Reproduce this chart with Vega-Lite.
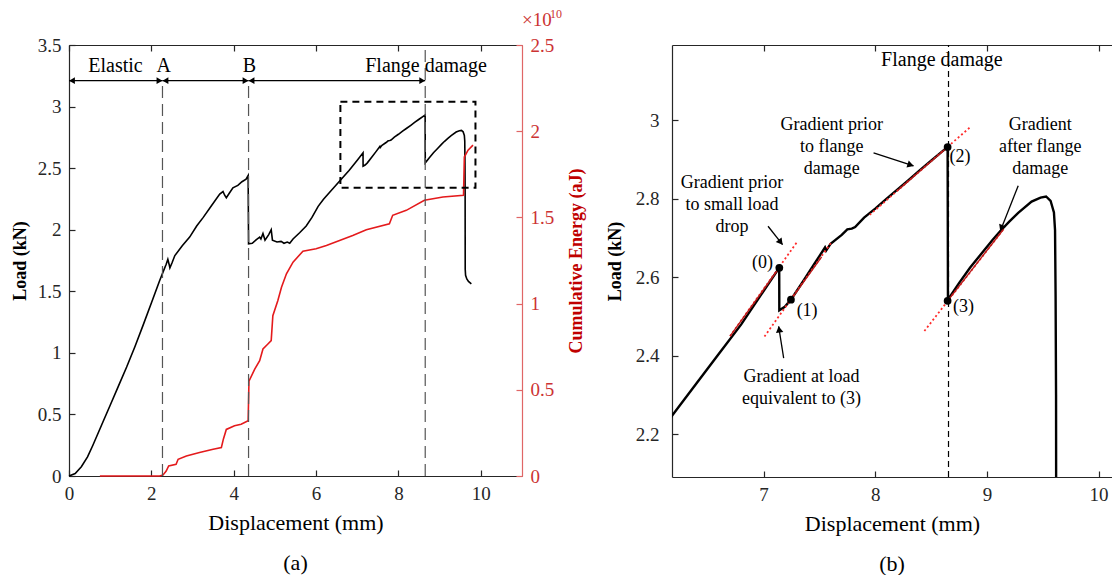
{
  "$schema": "https://vega.github.io/schema/vega-lite/v6.json",
  "background": "white",
  "padding": {"left": 11, "top": 8, "right": 0, "bottom": 0},
  "bounds": "flush",
  "spacing": 150,
  "config": {
    "font": "Liberation Serif",
    "view": {"stroke": null},
    "title": {"font": "Liberation Serif", "fontSize": 22, "fontWeight": "normal", "color": "#000000"},
    "axis": {
      "grid": false, "labelFont": "Liberation Serif", "labelFontSize": 19, "labelColor": "#262626",
      "titleFont": "Liberation Serif", "titleColor": "#000000", "domainColor": "#262626", "tickColor": "#262626",
      "tickSize": -6, "labelPadding": 14, "domainWidth": 1.2, "tickWidth": 1.2, "labelFlush": false, "labelOverlap": false
    }
  },
  "datasets": {
    "load": [
      {"d":0,"load":0},{"d":0.15,"load":0.02},{"d":0.3,"load":0.075},{"d":0.45,"load":0.155},{"d":0.58,"load":0.25},{"d":0.8,"load":0.42},{"d":1.0,"load":0.575},{"d":1.2,"load":0.73},{"d":1.4,"load":0.885},{"d":1.6,"load":1.05},{"d":1.8,"load":1.225},{"d":2.0,"load":1.405},{"d":2.2,"load":1.585},{"d":2.3,"load":1.67},{"d":2.36,"load":1.72},{"d":2.4,"load":1.76},{"d":2.43,"load":1.72},{"d":2.45,"load":1.69},{"d":2.5,"load":1.73},{"d":2.57,"load":1.79},{"d":2.75,"load":1.87},{"d":2.93,"load":1.94},{"d":3.1,"load":2.03},{"d":3.26,"load":2.1},{"d":3.45,"load":2.19},{"d":3.66,"load":2.29},{"d":3.74,"load":2.31},{"d":3.78,"load":2.28},{"d":3.82,"load":2.26},{"d":3.9,"load":2.3},{"d":3.98,"load":2.34},{"d":4.1,"load":2.36},{"d":4.2,"load":2.39},{"d":4.3,"load":2.41},{"d":4.35,"load":2.44},{"d":4.36,"load":1.885},{"d":4.45,"load":1.89},{"d":4.55,"load":1.92},{"d":4.63,"load":1.94},{"d":4.66,"load":1.925},{"d":4.71,"load":1.97},{"d":4.76,"load":1.915},{"d":4.85,"load":1.96},{"d":4.91,"load":2.0},{"d":4.94,"load":1.915},{"d":5.05,"load":1.9},{"d":5.15,"load":1.905},{"d":5.22,"load":1.89},{"d":5.3,"load":1.9},{"d":5.36,"load":1.89},{"d":5.44,"load":1.925},{"d":5.6,"load":1.975},{"d":5.76,"load":2.03},{"d":5.9,"load":2.1},{"d":6.05,"load":2.19},{"d":6.18,"load":2.247},{"d":6.4,"load":2.33},{"d":6.6,"load":2.405},{"d":6.8,"load":2.48},{"d":7.0,"load":2.565},{"d":7.14,"load":2.624},{"d":7.141,"load":2.516},{"d":7.19,"load":2.525},{"d":7.245,"load":2.543},{"d":7.35,"load":2.588},{"d":7.45,"load":2.632},{"d":7.53,"load":2.667},{"d":7.55,"load":2.676},{"d":7.56,"load":2.668},{"d":7.6,"load":2.685},{"d":7.7,"load":2.708},{"d":7.75,"load":2.722},{"d":7.79,"load":2.724},{"d":7.82,"load":2.728},{"d":7.9,"load":2.752},{"d":8.0,"load":2.775},{"d":8.1,"load":2.8},{"d":8.2,"load":2.824},{"d":8.3,"load":2.848},{"d":8.4,"load":2.873},{"d":8.5,"load":2.897},{"d":8.6,"load":2.921},{"d":8.648,"load":2.932},{"d":8.651,"load":2.543},{"d":8.75,"load":2.585},{"d":8.85,"load":2.625},{"d":8.95,"load":2.66},{"d":9.05,"load":2.695},{"d":9.12,"load":2.718},{"d":9.2,"load":2.742},{"d":9.28,"load":2.764},{"d":9.4,"load":2.793},{"d":9.48,"load":2.803},{"d":9.53,"load":2.806},{"d":9.57,"load":2.795},{"d":9.6,"load":2.765},{"d":9.61,"load":2.72},{"d":9.615,"load":2.55},{"d":9.619,"load":2.3},{"d":9.621,"load":1.68},{"d":9.63,"load":1.63},{"d":9.66,"load":1.6},{"d":9.7,"load":1.58},{"d":9.77,"load":1.56}
    ],
    "energy": [
      {"d":0.75,"energy":0},{"d":2.2,"energy":0},{"d":2.28,"energy":5e7},{"d":2.36,"energy":2.9e8},{"d":2.42,"energy":5.8e8},{"d":2.6,"energy":6.8e8},{"d":2.65,"energy":9.7e8},{"d":2.85,"energy":1.16e9},{"d":3.17,"energy":1.36e9},{"d":3.5,"energy":1.55e9},{"d":3.7,"energy":1.65e9},{"d":3.75,"energy":2.15e9},{"d":3.82,"energy":2.7e9},{"d":4.02,"energy":2.91e9},{"d":4.18,"energy":3.0e9},{"d":4.35,"energy":3.2e9},{"d":4.37,"energy":5.5e9},{"d":4.51,"energy":6.2e9},{"d":4.63,"energy":6.69e9},{"d":4.71,"energy":7.37e9},{"d":4.83,"energy":7.66e9},{"d":4.91,"energy":7.85e9},{"d":4.95,"energy":9.3e9},{"d":5.07,"energy":1.017e10},{"d":5.16,"energy":1.095e10},{"d":5.28,"energy":1.173e10},{"d":5.44,"energy":1.24e10},{"d":5.68,"energy":1.304e10},{"d":6.0,"energy":1.318e10},{"d":6.25,"energy":1.337e10},{"d":6.57,"energy":1.366e10},{"d":6.89,"energy":1.395e10},{"d":7.22,"energy":1.428e10},{"d":7.78,"energy":1.463e10},{"d":7.86,"energy":1.512e10},{"d":8.19,"energy":1.541e10},{"d":8.63,"energy":1.599e10},{"d":9.08,"energy":1.618e10},{"d":9.58,"energy":1.628e10},{"d":9.6,"energy":1.85e10},{"d":9.69,"energy":1.89e10},{"d":9.81,"energy":1.919e10}
    ],
    "stages": [
      {"d": 2.27, "bottom": 0, "top": 3.21},
      {"d": 4.36, "bottom": 0, "top": 3.21},
      {"d": 8.65, "bottom": 0, "top": 3.5}
    ],
    "phases": [
      {"phase": "Elastic", "start": 0, "end": 2.27, "level": 3.21},
      {"phase": "A", "start": 2.27, "end": 4.36, "level": 3.21},
      {"phase": "B", "start": 4.36, "end": 8.65, "level": 3.21}
    ],
    "phase_labels": [
      {"label": "Elastic", "d": 1.13, "level": 3.33},
      {"label": "A", "d": 2.3, "level": 3.33},
      {"label": "B", "d": 4.38, "level": 3.33},
      {"label": "Flange damage", "d": 8.67, "level": 3.33}
    ],
    "box": [{"d1": 6.59, "d2": 9.87, "l1": 2.341, "l2": 3.04}],
    "exponent": [{"d": 11, "load": 3.654}],
    "flange_b": [{"d": 8.656, "bottom": 2.091, "top": 3.192, "label": "Flange damage", "ld": 8.597, "ll": 3.155}],
    "grad_b": [
      {"g": "g0", "kind": "full", "d": 6.7, "load": 2.45}, {"g": "g0", "kind": "full", "d": 7.3, "load": 2.69},
      {"g": "g0", "kind": "overlap", "d": 6.7, "load": 2.45}, {"g": "g0", "kind": "overlap", "d": 7.14, "load": 2.624},
      {"g": "g1", "kind": "full", "d": 7.008, "load": 2.449}, {"g": "g1", "kind": "full", "d": 7.61, "load": 2.69},
      {"g": "g1", "kind": "overlap", "d": 7.245, "load": 2.543}, {"g": "g1", "kind": "overlap", "d": 7.52, "load": 2.652},
      {"g": "g2", "kind": "full", "d": 7.95, "load": 2.759}, {"g": "g2", "kind": "full", "d": 8.86, "load": 2.985},
      {"g": "g2", "kind": "overlap", "d": 8.2, "load": 2.821}, {"g": "g2", "kind": "overlap", "d": 8.648, "load": 2.932},
      {"g": "g3", "kind": "full", "d": 8.44, "load": 2.463}, {"g": "g3", "kind": "full", "d": 9.15, "load": 2.723},
      {"g": "g3", "kind": "overlap", "d": 8.648, "load": 2.54}, {"g": "g3", "kind": "overlap", "d": 9.15, "load": 2.723}
    ],
    "arrows_b": [
      {"arrow": "a0", "end": "tail", "d": 7.04, "load": 2.73}, {"arrow": "a0", "end": "head", "d": 7.17, "load": 2.683},
      {"arrow": "a1", "end": "tail", "d": 7.18, "load": 2.394}, {"arrow": "a1", "end": "head", "d": 7.135, "load": 2.475},
      {"arrow": "a2", "end": "tail", "d": 7.985, "load": 2.917}, {"arrow": "a2", "end": "head", "d": 8.343, "load": 2.884},
      {"arrow": "a3", "end": "tail", "d": 9.28, "load": 2.833}, {"arrow": "a3", "end": "head", "d": 9.12, "load": 2.718}
    ],
    "pts_b": [
      {"pt": "(0)", "d": 7.141, "load": 2.624, "ld": 6.99, "ll": 2.637},
      {"pt": "(1)", "d": 7.245, "load": 2.543, "ld": 7.39, "ll": 2.514},
      {"pt": "(2)", "d": 8.648, "load": 2.932, "ld": 8.76, "ll": 2.907},
      {"pt": "(3)", "d": 8.648, "load": 2.54, "ld": 8.79, "ll": 2.523}
    ],
    "notes_b": [
      {"note": "Gradient prior\nto flange\ndamage", "d": 7.61, "load": 3.011},
      {"note": "Gradient\nafter flange\ndamage", "d": 9.477, "load": 3.011},
      {"note": "Gradient prior\nto small load\ndrop", "d": 6.717, "load": 2.862},
      {"note": "Gradient at load\nequivalent to (3)", "d": 7.34, "load": 2.368}
    ]
  },
  "hconcat": [
    {
      "width": 453,
      "height": 431,
      "title": {"text": "(a)", "orient": "bottom", "offset": 20},
      "resolve": {"scale": {"y": "independent"}},
      "layer": [
        {
          "data": {"name": "load"},
          "mark": {"type": "line", "color": "#000000", "strokeWidth": 1.6},
          "encoding": {
            "x": {"field": "d", "type": "quantitative", "scale": {"domain": [0, 11], "nice": false},
              "axis": {"orient": "bottom", "values": [0, 2, 4, 6, 8, 10], "title": "Displacement (mm)", "titleFontSize": 22, "titleFontWeight": "normal", "titlePadding": 9}},
            "y": {"field": "load", "type": "quantitative", "scale": {"domain": [0, 3.5], "nice": false},
              "axis": {"orient": "left", "values": [0, 0.5, 1, 1.5, 2, 2.5, 3, 3.5], "labelExpr": "'' + datum.value", "title": "Load (kN)", "titleFontSize": 18, "titleFontWeight": "bold", "titlePadding": 8}}
          }
        },
        {
          "data": {"name": "energy"},
          "mark": {"type": "line", "color": "#e41a1c", "strokeWidth": 1.6},
          "encoding": {
            "x": {"field": "d", "type": "quantitative", "scale": {"domain": [0, 11], "nice": false},
              "axis": {"orient": "top", "values": [0, 2, 4, 6, 8, 10], "labels": false, "title": null}},
            "y": {"field": "energy", "type": "quantitative", "scale": {"domain": [0, 25000000000], "nice": false},
              "axis": {"orient": "right", "values": [0, 5000000000, 10000000000, 15000000000, 20000000000, 25000000000],
                "labelExpr": "'' + (datum.value / 1e10)", "title": "Cumulative Energy (aJ)", "titleAngle": 270,
                "titleFontSize": 18, "titleFontWeight": "bold", "titleColor": "#c00000", "labelColor": "#cc3333",
                "domainColor": "#e06666", "tickColor": "#e06666", "titlePadding": 32}}
          }
        },
        {
          "data": {"name": "stages"},
          "mark": {"type": "rule", "color": "#555555", "strokeDash": [12, 6], "strokeWidth": 1.2},
          "encoding": {
            "x": {"field": "d", "type": "quantitative", "scale": {"domain": [0, 11], "nice": false}, "axis": null},
            "y": {"field": "bottom", "type": "quantitative", "scale": {"domain": [0, 3.5], "nice": false}, "axis": null},
            "y2": {"field": "top"}
          }
        },
        {
          "data": {"name": "phases"},
          "mark": {"type": "rule", "color": "#000000", "strokeWidth": 1.2},
          "encoding": {
            "x": {"field": "start", "type": "quantitative", "scale": {"domain": [0, 11], "nice": false}, "axis": null},
            "x2": {"field": "end"},
            "y": {"field": "level", "type": "quantitative", "scale": {"domain": [0, 3.5], "nice": false}, "axis": null}
          }
        },
        {
          "data": {"name": "phases"},
          "mark": {"type": "point", "shape": "triangle-left", "filled": true, "color": "#000000", "size": 45, "opacity": 1, "xOffset": 3},
          "encoding": {
            "x": {"field": "start", "type": "quantitative", "scale": {"domain": [0, 11], "nice": false}, "axis": null},
            "y": {"field": "level", "type": "quantitative", "scale": {"domain": [0, 3.5], "nice": false}, "axis": null}
          }
        },
        {
          "data": {"name": "phases"},
          "mark": {"type": "point", "shape": "triangle-right", "filled": true, "color": "#000000", "size": 45, "opacity": 1, "xOffset": -3},
          "encoding": {
            "x": {"field": "end", "type": "quantitative", "scale": {"domain": [0, 11], "nice": false}, "axis": null},
            "y": {"field": "level", "type": "quantitative", "scale": {"domain": [0, 3.5], "nice": false}, "axis": null}
          }
        },
        {
          "data": {"name": "phase_labels"},
          "mark": {"type": "text", "fontSize": 20, "align": "center", "baseline": "middle", "color": "#000000", "font": "Liberation Serif"},
          "encoding": {
            "x": {"field": "d", "type": "quantitative", "scale": {"domain": [0, 11], "nice": false}, "axis": null},
            "y": {"field": "level", "type": "quantitative", "scale": {"domain": [0, 3.5], "nice": false}, "axis": null},
            "text": {"field": "label", "type": "nominal"}
          }
        },
        {
          "data": {"name": "box"},
          "mark": {"type": "rect", "filled": false, "stroke": "#000000", "strokeWidth": 2, "strokeDash": [7, 5]},
          "encoding": {
            "x": {"field": "d1", "type": "quantitative", "scale": {"domain": [0, 11], "nice": false}, "axis": null},
            "x2": {"field": "d2"},
            "y": {"field": "l1", "type": "quantitative", "scale": {"domain": [0, 3.5], "nice": false}, "axis": null},
            "y2": {"field": "l2"}
          }
        },
        {
          "data": {"name": "exponent"},
          "mark": {"type": "text", "text": "×10", "fontSize": 19, "align": "left", "baseline": "alphabetic", "color": "#cc3333", "font": "Liberation Serif"},
          "encoding": {
            "x": {"field": "d", "type": "quantitative", "scale": {"domain": [0, 11], "nice": false}, "axis": null},
            "y": {"field": "load", "type": "quantitative", "scale": {"domain": [0, 3.5], "nice": false}, "axis": null}
          }
        },
        {
          "data": {"name": "exponent"},
          "mark": {"type": "text", "text": "10", "fontSize": 12, "align": "left", "baseline": "alphabetic", "color": "#cc3333", "font": "Liberation Serif", "dx": 28, "dy": -8},
          "encoding": {
            "x": {"field": "d", "type": "quantitative", "scale": {"domain": [0, 11], "nice": false}, "axis": null},
            "y": {"field": "load", "type": "quantitative", "scale": {"domain": [0, 3.5], "nice": false}, "axis": null}
          }
        }
      ]
    },
    {
      "width": 440,
      "height": 432,
      "title": {"text": "(b)", "orient": "bottom", "offset": 20},
      "resolve": {"scale": {"y": "independent"}},
      "layer": [
        {
          "data": {"name": "load"},
          "mark": {"type": "line", "color": "#000000", "strokeWidth": 2.4, "clip": true},
          "encoding": {
            "x": {"field": "d", "type": "quantitative", "scale": {"domain": [6.18, 10.12], "nice": false},
              "axis": {"orient": "bottom", "values": [7, 8, 9, 10], "title": "Displacement (mm)", "titleFontSize": 22, "titleFontWeight": "normal", "titlePadding": 9}},
            "y": {"field": "load", "type": "quantitative", "scale": {"domain": [2.091, 3.192], "nice": false},
              "axis": {"orient": "left", "values": [2.2, 2.4, 2.6, 2.8, 3], "labelExpr": "'' + datum.value", "title": "Load (kN)", "titleFontSize": 18, "titleFontWeight": "bold", "titlePadding": 11, "labelPadding": 19}}
          }
        },
        {
          "data": {"name": "flange_b"},
          "mark": {"type": "rule", "color": "#000000", "strokeDash": [6, 4], "strokeWidth": 1.2},
          "encoding": {
            "x": {"field": "d", "type": "quantitative", "scale": {"domain": [6.18, 10.12], "nice": false},
              "axis": {"orient": "top", "values": [7, 8, 9, 10], "labels": false, "title": null}},
            "y": {"field": "bottom", "type": "quantitative", "scale": {"domain": [2.091, 3.192], "nice": false}, "axis": null},
            "y2": {"field": "top"}
          }
        },
        {
          "data": {"name": "grad_b"},
          "transform": [{"filter": "datum.kind == 'full'"}],
          "mark": {"type": "line", "color": "#ff2a2a", "strokeWidth": 1.8, "strokeDash": [2, 2.5]},
          "encoding": {
            "x": {"field": "d", "type": "quantitative", "scale": {"domain": [6.18, 10.12], "nice": false}, "axis": null},
            "y": {"field": "load", "type": "quantitative", "scale": {"domain": [2.091, 3.192], "nice": false}, "axis": null},
            "detail": {"field": "g", "type": "nominal"}
          }
        },
        {
          "data": {"name": "grad_b"},
          "transform": [{"filter": "datum.kind == 'overlap'"}],
          "mark": {"type": "line", "color": "#b81c1c", "strokeWidth": 1.4},
          "encoding": {
            "x": {"field": "d", "type": "quantitative", "scale": {"domain": [6.18, 10.12], "nice": false}, "axis": null},
            "y": {"field": "load", "type": "quantitative", "scale": {"domain": [2.091, 3.192], "nice": false}, "axis": null},
            "detail": {"field": "g", "type": "nominal"}
          }
        },
        {
          "data": {"name": "arrows_b"},
          "mark": {"type": "line", "color": "#000000", "strokeWidth": 1.3},
          "encoding": {
            "x": {"field": "d", "type": "quantitative", "scale": {"domain": [6.18, 10.12], "nice": false}, "axis": null},
            "y": {"field": "load", "type": "quantitative", "scale": {"domain": [2.091, 3.192], "nice": false}, "axis": null},
            "detail": {"field": "arrow", "type": "nominal"}
          }
        },
        {
          "data": {"name": "arrows_b"},
          "transform": [{"filter": "datum.arrow == 'a0' && datum.end == 'head'"}],
          "mark": {"type": "point", "shape": "triangle-right", "filled": true, "opacity": 1, "color": "#000000", "size": 55, "angle": 51.8, "xOffset": -1.9, "yOffset": -2.4},
          "encoding": {
            "x": {"field": "d", "type": "quantitative", "scale": {"domain": [6.18, 10.12], "nice": false}, "axis": null},
            "y": {"field": "load", "type": "quantitative", "scale": {"domain": [2.091, 3.192], "nice": false}, "axis": null}
          }
        },
        {
          "data": {"name": "arrows_b"},
          "transform": [{"filter": "datum.arrow == 'a1' && datum.end == 'head'"}],
          "mark": {"type": "point", "shape": "triangle-right", "filled": true, "opacity": 1, "color": "#000000", "size": 55, "angle": 261, "xOffset": 0.5, "yOffset": 3},
          "encoding": {
            "x": {"field": "d", "type": "quantitative", "scale": {"domain": [6.18, 10.12], "nice": false}, "axis": null},
            "y": {"field": "load", "type": "quantitative", "scale": {"domain": [2.091, 3.192], "nice": false}, "axis": null}
          }
        },
        {
          "data": {"name": "arrows_b"},
          "transform": [{"filter": "datum.arrow == 'a2' && datum.end == 'head'"}],
          "mark": {"type": "point", "shape": "triangle-right", "filled": true, "opacity": 1, "color": "#000000", "size": 55, "angle": 18, "xOffset": -2.9, "yOffset": -0.9},
          "encoding": {
            "x": {"field": "d", "type": "quantitative", "scale": {"domain": [6.18, 10.12], "nice": false}, "axis": null},
            "y": {"field": "load", "type": "quantitative", "scale": {"domain": [2.091, 3.192], "nice": false}, "axis": null}
          }
        },
        {
          "data": {"name": "arrows_b"},
          "transform": [{"filter": "datum.arrow == 'a3' && datum.end == 'head'"}],
          "mark": {"type": "point", "shape": "triangle-right", "filled": true, "opacity": 1, "color": "#000000", "size": 55, "angle": 111.6, "xOffset": 1.1, "yOffset": -2.8},
          "encoding": {
            "x": {"field": "d", "type": "quantitative", "scale": {"domain": [6.18, 10.12], "nice": false}, "axis": null},
            "y": {"field": "load", "type": "quantitative", "scale": {"domain": [2.091, 3.192], "nice": false}, "axis": null}
          }
        },
        {
          "data": {"name": "pts_b"},
          "mark": {"type": "point", "shape": "circle", "filled": true, "opacity": 1, "color": "#000000", "size": 60},
          "encoding": {
            "x": {"field": "d", "type": "quantitative", "scale": {"domain": [6.18, 10.12], "nice": false}, "axis": null},
            "y": {"field": "load", "type": "quantitative", "scale": {"domain": [2.091, 3.192], "nice": false}, "axis": null}
          }
        },
        {
          "data": {"name": "pts_b"},
          "mark": {"type": "text", "fontSize": 18, "align": "center", "baseline": "middle", "color": "#000000", "font": "Liberation Serif"},
          "encoding": {
            "x": {"field": "ld", "type": "quantitative", "scale": {"domain": [6.18, 10.12], "nice": false}, "axis": null},
            "y": {"field": "ll", "type": "quantitative", "scale": {"domain": [2.091, 3.192], "nice": false}, "axis": null},
            "text": {"field": "pt", "type": "nominal"}
          }
        },
        {
          "data": {"name": "flange_b"},
          "mark": {"type": "text", "fontSize": 20, "align": "center", "baseline": "middle", "color": "#000000", "font": "Liberation Serif"},
          "encoding": {
            "x": {"field": "ld", "type": "quantitative", "scale": {"domain": [6.18, 10.12], "nice": false}, "axis": null},
            "y": {"field": "ll", "type": "quantitative", "scale": {"domain": [2.091, 3.192], "nice": false}, "axis": null},
            "text": {"field": "label", "type": "nominal"}
          }
        },
        {
          "data": {"name": "notes_b"},
          "mark": {"type": "text", "fontSize": 18, "align": "center", "baseline": "top", "lineBreak": "\n", "lineHeight": 22, "color": "#000000", "font": "Liberation Serif"},
          "encoding": {
            "x": {"field": "d", "type": "quantitative", "scale": {"domain": [6.18, 10.12], "nice": false}, "axis": null},
            "y": {"field": "load", "type": "quantitative", "scale": {"domain": [2.091, 3.192], "nice": false}, "axis": null},
            "text": {"field": "note", "type": "nominal"}
          }
        }
      ]
    }
  ]
}
